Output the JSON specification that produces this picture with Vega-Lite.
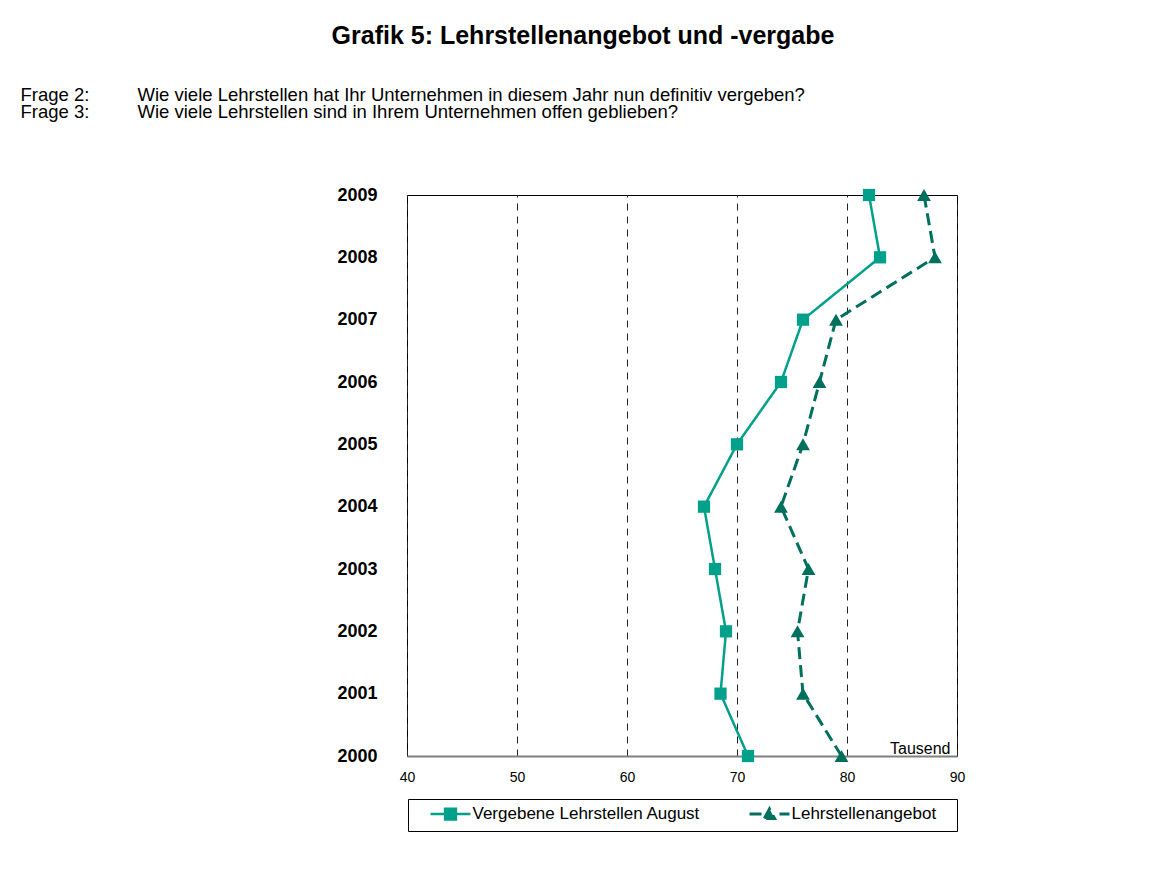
{
  "$schema": "https://vega.github.io/schema/vega-lite/v6.json",
  "width": 550,
  "height": 561,
  "autosize": {"type": "none"},
  "padding": {"left": 407, "top": 195, "right": 216, "bottom": 121},
  "background": "white",
  "title": {
    "text": "Grafik 5: Lehrstellenangebot und -vergabe",
    "anchor": "middle",
    "frame": "group",
    "dx": -99,
    "offset": 16,
    "baseline": "alphabetic",
    "font": "Liberation Sans",
    "fontSize": 25,
    "fontWeight": "bold",
    "color": "black"
  },
  "config": {
    "view": {"stroke": "black", "strokeWidth": 1},
    "font": "Liberation Sans",
    "legend": {
      "title": null, "orient": "none", "legendX": 1, "legendY": 604,
      "direction": "horizontal", "columns": 2, "columnPadding": 33,
      "padding": 6.5, "strokeColor": "black", "fillColor": "white",
      "labelFont": "Liberation Sans", "labelFontSize": 17, "labelColor": "black", "labelLimit": 500,
      "labelOffset": 13.5, "symbolOffset": 27.5, "symbolSize": 144, "symbolStrokeWidth": 3
    },
    "axisX": {
      "grid": true, "gridColor": "#222222", "gridDash": [7, 6], "gridWidth": 1,
      "ticks": false, "tickSize": 0,
      "domain": true, "domainColor": "#808080", "domainWidth": 2,
      "labelFont": "Liberation Sans", "labelFontSize": 14, "labelColor": "black", "labelPadding": 14,
      "labelFlush": false,
      "titleFont": "Liberation Sans", "titleFontSize": 16, "titleFontWeight": "normal",
      "titleColor": "black", "titleAlign": "right", "titleBaseline": "alphabetic",
      "titleX": 543, "titleY": -3
    }
  },
  "data": {
    "values": [
      {"year": 2000, "series": "Vergebene Lehrstellen August", "value": 71},
      {"year": 2001, "series": "Vergebene Lehrstellen August", "value": 68.5},
      {"year": 2002, "series": "Vergebene Lehrstellen August", "value": 69},
      {"year": 2003, "series": "Vergebene Lehrstellen August", "value": 68},
      {"year": 2004, "series": "Vergebene Lehrstellen August", "value": 67},
      {"year": 2005, "series": "Vergebene Lehrstellen August", "value": 70},
      {"year": 2006, "series": "Vergebene Lehrstellen August", "value": 74},
      {"year": 2007, "series": "Vergebene Lehrstellen August", "value": 76},
      {"year": 2008, "series": "Vergebene Lehrstellen August", "value": 83},
      {"year": 2009, "series": "Vergebene Lehrstellen August", "value": 82},
      {"year": 2000, "series": "Lehrstellenangebot", "value": 79.5},
      {"year": 2001, "series": "Lehrstellenangebot", "value": 76},
      {"year": 2002, "series": "Lehrstellenangebot", "value": 75.5},
      {"year": 2003, "series": "Lehrstellenangebot", "value": 76.5},
      {"year": 2004, "series": "Lehrstellenangebot", "value": 74},
      {"year": 2005, "series": "Lehrstellenangebot", "value": 76},
      {"year": 2006, "series": "Lehrstellenangebot", "value": 77.5},
      {"year": 2007, "series": "Lehrstellenangebot", "value": 79},
      {"year": 2008, "series": "Lehrstellenangebot", "value": 88},
      {"year": 2009, "series": "Lehrstellenangebot", "value": 87}
    ]
  },
  "resolve": {"axis": {"y": "independent"}},
  "layer": [
    {
      "mark": {"type": "line"},
      "encoding": {
        "x": {
          "field": "value", "type": "quantitative",
          "scale": {"domain": [40, 90], "nice": false, "zero": false},
          "axis": {"title": "Tausend", "values": [40, 50, 60, 70, 80, 90]}
        },
        "y": {
          "field": "year", "type": "ordinal", "sort": "descending",
          "scale": {"type": "point", "padding": 0},
          "axis": {
            "orient": "left",
            "grid": false, "ticks": false, "domain": false,
            "labelFont": "Liberation Sans", "labelFontSize": 18, "labelFontWeight": "bold", "labelColor": "black",
            "labelPadding": 30,
            "title": ["Frage 2:", "Frage 3:"],
            "titleFont": "Liberation Sans", "titleFontSize": 18.5, "titleFontWeight": "normal", "titleColor": "black",
            "titleAngle": 0, "titleAlign": "left", "titleBaseline": "alphabetic",
            "titleX": -387, "titleY": -95, "titleLineHeight": 17.5
          }
        },
        "color": {
          "field": "series", "type": "nominal",
          "scale": {"domain": ["Vergebene Lehrstellen August", "Lehrstellenangebot"], "range": ["#00A08A", "#00705E"]},
          "legend": {
            "labelExpr": "datum.value == 'Lehrstellenangebot' ? datum.label + '\u00a0\u00a0\u00a0\u200b' : datum.label",
            "encode": {
              "symbols": {
                "update": {
                  "shape": {"signal": "datum.value == 'Lehrstellenangebot' ? 'M-3.33,0H-0.6M1.67,0H3.33M-0.85,0.75L0,-0.85L0.85,0.75Z' : 'M-3.33,0H3.33M-0.9,-0.9H0.9V0.9H-0.9Z'"},
                  "fill": {"signal": "datum.value == 'Lehrstellenangebot' ? '#00705E' : '#00A08A'"},
                  "stroke": {"signal": "datum.value == 'Lehrstellenangebot' ? '#00705E' : '#00A08A'"},
                  "opacity": {"value": 1}
                }
              }
            }
          }
        },
        "strokeDash": {
          "field": "series", "type": "nominal",
          "scale": {"domain": ["Vergebene Lehrstellen August", "Lehrstellenangebot"], "range": [[1, 0], [12, 6]]},
          "legend": null
        },
        "strokeWidth": {
          "field": "series", "type": "nominal",
          "scale": {"domain": ["Vergebene Lehrstellen August", "Lehrstellenangebot"], "range": [2.5, 3]},
          "legend": null
        },
        "order": {"field": "year", "type": "quantitative"}
      }
    },
    {
      "transform": [{"filter": "datum.series == 'Vergebene Lehrstellen August'"}],
      "mark": {"type": "point", "filled": true, "opacity": 1, "shape": "square", "size": 150},
      "encoding": {
        "x": {
          "field": "value", "type": "quantitative",
          "scale": {"domain": [40, 90], "nice": false, "zero": false},
          "axis": {"title": "Tausend", "values": [40, 50, 60, 70, 80, 90]}
        },
        "y": {
          "field": "year", "type": "ordinal", "sort": "descending",
          "scale": {"type": "point", "padding": 0},
          "axis": {
            "orient": "right",
            "grid": false, "ticks": false, "domain": false, "labels": false,
            "title": ["Wie viele Lehrstellen hat Ihr Unternehmen in diesem Jahr nun definitiv vergeben?", "Wie viele Lehrstellen sind in Ihrem Unternehmen offen geblieben?"],
            "titleFont": "Liberation Sans", "titleFontSize": 18.5, "titleFontWeight": "normal", "titleColor": "black",
            "titleAngle": 0, "titleAlign": "left", "titleBaseline": "alphabetic",
            "titleX": -820, "titleY": -95, "titleLineHeight": 17.5
          }
        },
        "color": {
          "field": "series", "type": "nominal",
          "scale": {"domain": ["Vergebene Lehrstellen August", "Lehrstellenangebot"], "range": ["#00A08A", "#00705E"]},
          "legend": {
            "labelExpr": "datum.value == 'Lehrstellenangebot' ? datum.label + '\u00a0\u00a0\u00a0\u200b' : datum.label",
            "encode": {
              "symbols": {
                "update": {
                  "shape": {"signal": "datum.value == 'Lehrstellenangebot' ? 'M-3.33,0H-0.6M1.67,0H3.33M-0.85,0.75L0,-0.85L0.85,0.75Z' : 'M-3.33,0H3.33M-0.9,-0.9H0.9V0.9H-0.9Z'"},
                  "fill": {"signal": "datum.value == 'Lehrstellenangebot' ? '#00705E' : '#00A08A'"},
                  "stroke": {"signal": "datum.value == 'Lehrstellenangebot' ? '#00705E' : '#00A08A'"},
                  "opacity": {"value": 1}
                }
              }
            }
          }
        }
      }
    },
    {
      "transform": [{"filter": "datum.series == 'Lehrstellenangebot'"}],
      "mark": {"type": "point", "filled": true, "opacity": 1, "shape": "triangle-up", "size": 190},
      "encoding": {
        "x": {
          "field": "value", "type": "quantitative",
          "scale": {"domain": [40, 90], "nice": false, "zero": false},
          "axis": {"title": "Tausend", "values": [40, 50, 60, 70, 80, 90]}
        },
        "y": {
          "field": "year", "type": "ordinal", "sort": "descending",
          "scale": {"type": "point", "padding": 0},
          "axis": null
        },
        "color": {
          "field": "series", "type": "nominal",
          "scale": {"domain": ["Vergebene Lehrstellen August", "Lehrstellenangebot"], "range": ["#00A08A", "#00705E"]},
          "legend": {
            "labelExpr": "datum.value == 'Lehrstellenangebot' ? datum.label + '\u00a0\u00a0\u00a0\u200b' : datum.label",
            "encode": {
              "symbols": {
                "update": {
                  "shape": {"signal": "datum.value == 'Lehrstellenangebot' ? 'M-3.33,0H-0.6M1.67,0H3.33M-0.85,0.75L0,-0.85L0.85,0.75Z' : 'M-3.33,0H3.33M-0.9,-0.9H0.9V0.9H-0.9Z'"},
                  "fill": {"signal": "datum.value == 'Lehrstellenangebot' ? '#00705E' : '#00A08A'"},
                  "stroke": {"signal": "datum.value == 'Lehrstellenangebot' ? '#00705E' : '#00A08A'"},
                  "opacity": {"value": 1}
                }
              }
            }
          }
        }
      }
    }
  ]
}
